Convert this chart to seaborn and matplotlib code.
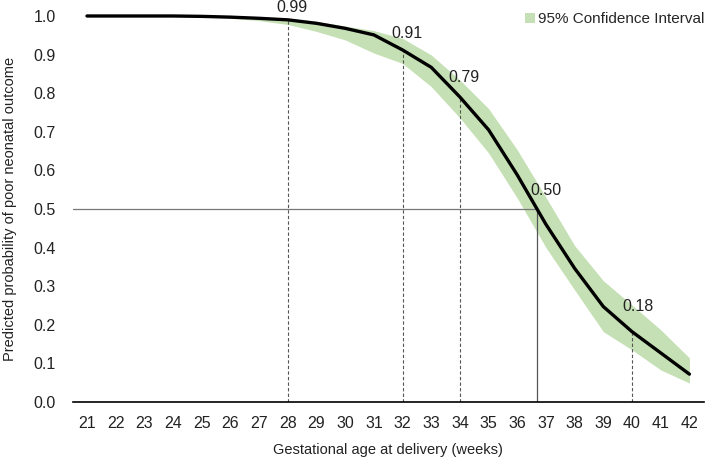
import matplotlib
matplotlib.use("Agg")
import matplotlib.pyplot as plt
import seaborn as sns
import pandas as pd
import numpy as np

weeks = list(range(21, 43))
prob = [1.0, 1.0, 1.0, 1.0, 0.999, 0.997, 0.994, 0.99, 0.981, 0.968, 0.951, 0.912,
        0.867, 0.79, 0.705, 0.588, 0.46, 0.346, 0.247, 0.182, 0.127, 0.072]
ci_upper = [1.0, 1.0, 1.0, 1.0, 1.0, 0.999, 0.997, 0.994, 0.986, 0.974, 0.962, 0.942,
            0.899, 0.834, 0.76, 0.653, 0.53, 0.405, 0.314, 0.251, 0.187, 0.114]
ci_lower = [1.0, 1.0, 1.0, 1.0, 0.998, 0.994, 0.988, 0.978, 0.96, 0.938, 0.904, 0.877,
            0.817, 0.736, 0.645, 0.528, 0.40, 0.29, 0.182, 0.135, 0.083, 0.049]

marked_weeks = [28, 32, 34, 40]
marked_labels = ["0.99", "0.91", "0.79", "0.18"]
half_week = 36.69
half_label = "0.50"
yticks = [0.0, 0.1, 0.2, 0.3, 0.4, 0.5, 0.6, 0.7, 0.8, 0.9, 1.0]

sns.set_style("white")
plt.rcParams['font.family'] = ['Liberation Sans', 'DejaVu Sans']

df = pd.DataFrame({"week": weeks, "prob": prob, "lo": ci_lower, "hi": ci_upper})

fig = plt.figure(figsize=(7.08, 4.62), dpi=100)
ax = fig.add_axes([0.1026, 0.13, 0.8914, 0.8354])

ax.fill_between(df["week"], df["lo"], df["hi"], color="#c5e0b4", linewidth=0,
                label="95% Confidence Interval", zorder=1)
sns.lineplot(data=df, x="week", y="prob", ax=ax, color="black", linewidth=2.4,
             zorder=3, legend=False, clip_on=False)

lookup = dict(zip(weeks, prob))
for w in marked_weeks:
    v = lookup[w]
    ax.plot([w, w], [0, v], color="#555555", linestyle=(0, (3, 2)), linewidth=0.8, zorder=2)

txt_kw = dict(ha="center", va="center", fontsize=11.5, color="#222222", clip_on=False)
label_pos = [(28.15, 1.022), (32.15, 0.955), (34.15, 0.84), (40.2, 0.246)]
for (x, y), lab in zip(label_pos, marked_labels):
    ax.text(x, y, lab, **txt_kw)
ax.text(37.0, 0.547, half_label, **txt_kw)

ax.plot([half_week, half_week], [0, 0.5], color="#555555", linewidth=0.9, zorder=2)
ax.plot([20.5, half_week], [0.5, 0.5], color="#777777", linewidth=0.9, zorder=2)

ax.set_xlim(20.5, 42.5)
ax.set_ylim(0, 1.0)
ax.set_xticks(weeks)
ax.set_xticklabels([str(w) for w in weeks], fontsize=11.5, color="#222222")
ax.set_yticks(yticks)
ax.set_yticklabels([f"{t:.1f}" for t in yticks], fontsize=11.5, color="#222222")
ax.tick_params(axis="x", length=0, pad=10)
ax.tick_params(axis="y", length=0, pad=12)

for s in ["top", "right", "left"]:
    ax.spines[s].set_visible(False)
ax.spines["bottom"].set_color("black")
ax.spines["bottom"].set_linewidth(1.2)

ax.set_xlabel("Gestational age at delivery (weeks)", fontsize=10.5, color="#222222", labelpad=9)
ax.set_ylabel("Predicted probability of poor neonatal outcome", fontsize=10.5, color="#222222", labelpad=12)

leg = ax.legend(loc="upper right", bbox_to_anchor=(1.01, 1.025), frameon=False, fontsize=11,
                handlelength=0.6, handleheight=0.6, handletextpad=0.2, borderaxespad=0)

fig.savefig("out.png", dpi=100)
